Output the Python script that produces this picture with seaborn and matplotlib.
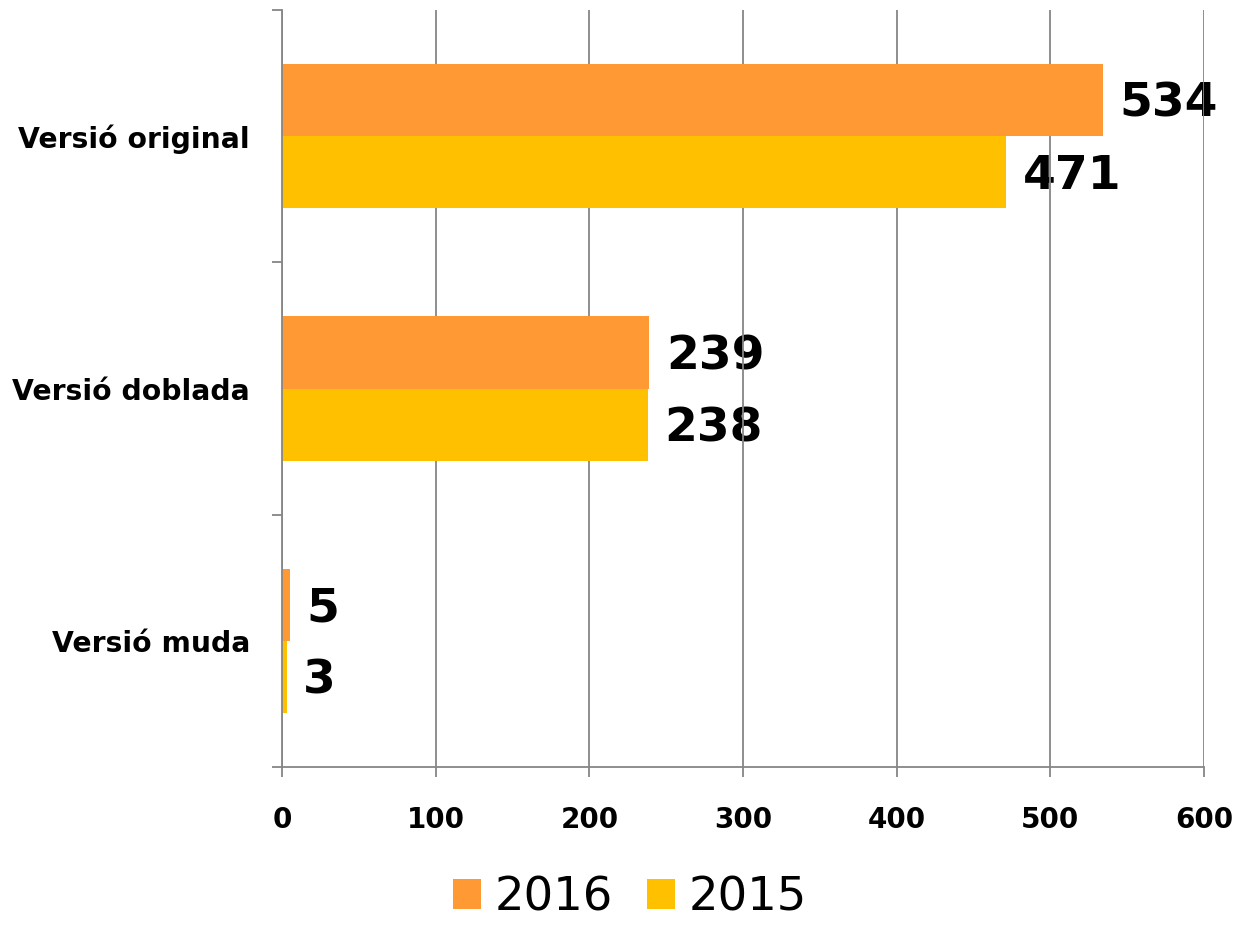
import pandas as pd
import seaborn as sns
import matplotlib.pyplot as plt
from matplotlib.ticker import FixedLocator

CATEGORIES = ['Versió original', 'Versió doblada', 'Versió muda']
YEARS = ['2016', '2015']
VALUES_2016 = [534, 239, 5]
VALUES_2015 = [471, 238, 3]
XTICKS = [0, 100, 200, 300, 400, 500, 600]

COLORS = {'2016': '#FF9933', '2015': '#FFC000'}
GRAY = '#868686'


def build_frame():
    rows = []
    for cat, v16, v15 in zip(CATEGORIES, VALUES_2016, VALUES_2015):
        rows.append({'cat': cat, 'year': '2016', 'value': v16})
        rows.append({'cat': cat, 'year': '2015', 'value': v15})
    return pd.DataFrame(rows)


def main():
    sns.set_style('white')
    plt.rcParams['text.color'] = 'black'
    plt.rcParams['xtick.color'] = GRAY
    plt.rcParams['ytick.color'] = GRAY
    plt.rcParams['xtick.labelcolor'] = 'black'
    plt.rcParams['ytick.labelcolor'] = 'black'
    df = build_frame()

    fig = plt.figure(figsize=(12.4, 9.25), dpi=100)
    ax = fig.add_axes([282 / 1240, 1 - 767 / 925, (1204 - 282) / 1240, (767 - 10) / 925])

    sns.barplot(data=df, x='value', y='cat', hue='year', hue_order=YEARS,
                order=CATEGORIES, palette=COLORS, orient='h', width=0.571,
                saturation=1, linewidth=0, ax=ax)

    handles, labels = ax.get_legend_handles_labels()
    if ax.get_legend() is not None:
        ax.get_legend().remove()

    ax.set_xlim(0, 600)
    ax.set_ylim(2.5, -0.5)
    ax.set_xticks(XTICKS)
    ax.set_xticklabels([str(t) for t in XTICKS])
    ax.set_xlabel('')
    ax.set_ylabel('')

    # gridlines sit above the value labels but below the bars
    ax.set_axisbelow(True)
    ax.xaxis.grid(True, color=GRAY, linewidth=1.3)
    ax.yaxis.grid(False)

    for side in ['top', 'right']:
        ax.spines[side].set_visible(False)
    for side in ['left', 'bottom']:
        ax.spines[side].set_visible(True)
        ax.spines[side].set_color(GRAY)
        ax.spines[side].set_linewidth(1.3)

    # category boundary ticks on the y axis
    ax.yaxis.set_minor_locator(FixedLocator([-0.5, 0.5, 1.5, 2.5]))
    ax.tick_params(axis='y', which='minor', left=True, length=7, width=1.3, color=GRAY)
    ax.tick_params(axis='y', which='major', left=True, length=0, pad=23)
    ax.tick_params(axis='x', which='major', bottom=True, length=7, width=1.3,
                   color=GRAY, pad=21)

    for lab in ax.get_yticklabels():
        lab.set_fontsize(20.3)
        lab.set_fontweight('heavy')
        lab.set_color('black')
    for lab in ax.get_xticklabels():
        lab.set_fontsize(20)
        lab.set_fontweight('heavy')
        lab.set_color('black')

    for cont in ax.containers:
        texts = ax.bar_label(cont, padding=12, fontsize=34, fontweight='heavy',
                             color='black')
        for t in texts:
            t.xyann = (12, -3)
            t.set_zorder(0.3)
            t.set_clip_on(False)

    fig.legend(handles, labels, loc='center', bbox_to_anchor=(630 / 1240, 1 - 898 / 925),
               ncol=2, frameon=False, fontsize=33.5, handlelength=0.6,
               handleheight=0.6, handletextpad=0.28, columnspacing=0.75,
               borderpad=0, labelcolor='black')

    fig.savefig('out.png', dpi=100)
    plt.close(fig)


if __name__ == '__main__':
    main()
